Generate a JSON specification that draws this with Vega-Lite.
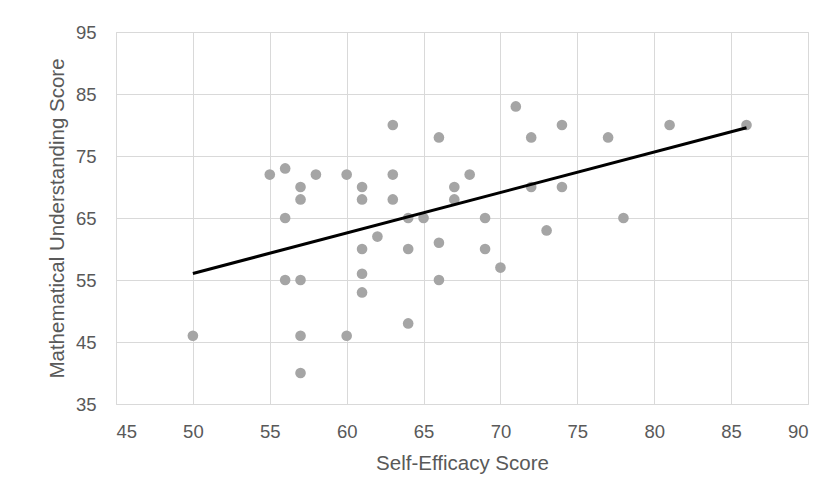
{
  "$schema": "https://vega.github.io/schema/vega-lite/v6.json",
  "autosize": {"type": "none"},
  "padding": {"left": 116, "top": 32, "right": 23, "bottom": 100},
  "width": 692,
  "height": 372,
  "background": "white",
  "datasets": {
    "points": [
      {"se": 55, "mu": 72}, {"se": 56, "mu": 73}, {"se": 57, "mu": 70}, {"se": 57, "mu": 68},
      {"se": 58, "mu": 72}, {"se": 56, "mu": 65}, {"se": 60, "mu": 72}, {"se": 61, "mu": 70},
      {"se": 61, "mu": 68}, {"se": 63, "mu": 80}, {"se": 63, "mu": 72}, {"se": 63, "mu": 68},
      {"se": 64, "mu": 65}, {"se": 65, "mu": 65}, {"se": 62, "mu": 62}, {"se": 61, "mu": 60},
      {"se": 64, "mu": 60}, {"se": 71, "mu": 83}, {"se": 66, "mu": 78}, {"se": 72, "mu": 78},
      {"se": 74, "mu": 80}, {"se": 77, "mu": 78}, {"se": 81, "mu": 80}, {"se": 86, "mu": 80},
      {"se": 68, "mu": 72}, {"se": 67, "mu": 70}, {"se": 67, "mu": 68}, {"se": 72, "mu": 70},
      {"se": 74, "mu": 70}, {"se": 69, "mu": 65}, {"se": 78, "mu": 65}, {"se": 73, "mu": 63},
      {"se": 66, "mu": 61}, {"se": 69, "mu": 60}, {"se": 56, "mu": 55}, {"se": 57, "mu": 55},
      {"se": 61, "mu": 56}, {"se": 61, "mu": 53}, {"se": 64, "mu": 48}, {"se": 50, "mu": 46},
      {"se": 57, "mu": 46}, {"se": 60, "mu": 46}, {"se": 57, "mu": 40}, {"se": 70, "mu": 57},
      {"se": 66, "mu": 55}
    ],
    "trend": [
      {"se": 50, "mu": 56.05},
      {"se": 86, "mu": 79.55}
    ]
  },
  "config": {
    "view": {"stroke": "#D9D9D9", "strokeWidth": 1},
    "axis": {
      "grid": true,
      "gridColor": "#D9D9D9",
      "gridWidth": 1,
      "domain": false,
      "ticks": false,
      "labelFont": "Liberation Sans",
      "labelFontSize": 18.5,
      "labelColor": "#595959",
      "titleFont": "Liberation Sans",
      "titleFontSize": 20.5,
      "titleFontWeight": "normal",
      "titleColor": "#595959"
    }
  },
  "layer": [
    {
      "data": {"name": "points"},
      "mark": {"type": "circle", "color": "#A5A5A5", "opacity": 1, "size": 113},
      "encoding": {
        "x": {
          "field": "se", "type": "quantitative",
          "scale": {"domain": [45, 90], "nice": false, "zero": false},
          "axis": {"values": [45, 50, 55, 60, 65, 70, 75, 80, 85, 90], "labelPadding": 18, "title": "Self-Efficacy Score", "titlePadding": 13}
        },
        "y": {
          "field": "mu", "type": "quantitative",
          "scale": {"domain": [35, 95], "nice": false, "zero": false},
          "axis": {"values": [35, 45, 55, 65, 75, 85, 95], "labelPadding": 20, "title": "Mathematical Understanding Score", "titlePadding": 8}
        }
      }
    },
    {
      "data": {"name": "trend"},
      "mark": {"type": "line", "color": "black", "strokeWidth": 3},
      "encoding": {
        "x": {"field": "se", "type": "quantitative"},
        "y": {"field": "mu", "type": "quantitative"}
      }
    }
  ]
}
